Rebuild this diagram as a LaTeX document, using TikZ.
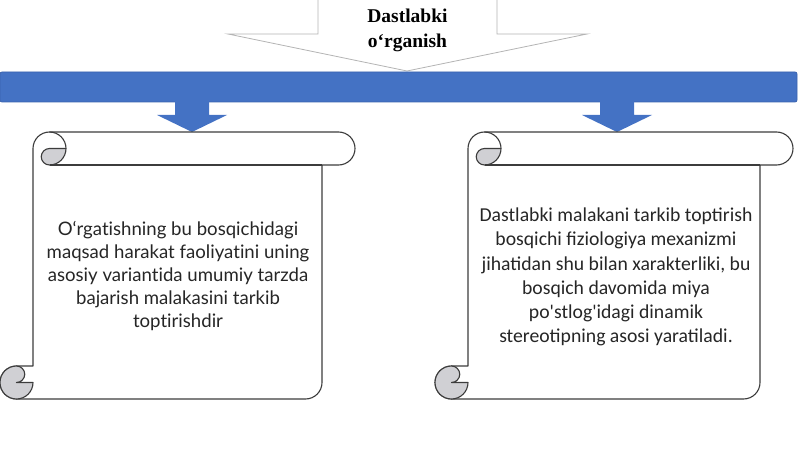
\documentclass[tikz,border=0pt]{standalone}
\usepackage{fontspec}
\setmainfont{Carlito}
\newfontfamily\leftfont[Ligatures=NoCommon]{Lato}
\newfontfamily\headfont{Liberation Serif}

\definecolor{barblue}{HTML}{4472C4}
\definecolor{baredge}{HTML}{3A63AE}
\definecolor{rollgray}{HTML}{D0D0D4}
\definecolor{inkgray}{HTML}{3C3C3C}
\definecolor{calloutgray}{HTML}{B4B4B4}

\tikzset{
  scrollline/.style={draw=inkgray, line width=1.1pt, line join=round},
  bar/.style={fill=barblue, draw=baredge, line width=0.8pt, rounded corners=2pt,
    minimum width=797pt, minimum height=30pt, inner sep=0pt},
  headtext/.style={font=\headfont\bfseries\fontsize{19.5}{25}\selectfont,
    align=center, text=black},
  lefttext/.style={font=\leftfont\fontsize{18.6}{23}\selectfont,
    align=center, text=black!85},
  righttext/.style={font=\fontsize{19.7}{24.2}\selectfont,
    align=center, text=black!85}
}

% scroll: #1 = left side of the body, #2 = right end of the top roll
\newcommand{\drawscroll}[2]{%
  % body and top roll
  \draw [scrollline, fill=white] (#1,366) -- (#1,148.5)
    arc[start angle=180, end angle=270, radius=16.5] -- ({#2-16.5},132)
    arc[start angle=270, end angle=450, radius=16.5] -- ({#2-33},165)
    -- ({#2-33},382.5) arc[start angle=0, end angle=90, radius=16.5]
    -- ({#1-16.5},399) arc[start angle=90, end angle=270, radius=16.5] -- cycle;
  % curl at the top
  \draw [scrollline, fill=rollgray] ({#1+16.5},148.5) -- ({#1+33},148.5)
    arc[start angle=0, end angle=90, radius=16.5]
    arc[start angle=90, end angle=270, radius=8.25] -- cycle;
  \draw [scrollline] ({#1+16.5},132) arc[start angle=270, end angle=360, radius=16.5];
  \draw [scrollline] ({#1+16.5},165) -- ({#2-33},165);
  % curl at the bottom
  \draw [scrollline, fill=rollgray] ({#1-16.5},366)
    arc[start angle=270, end angle=0, radius=16.5] -- ({#1-16.5},382.5)
    arc[start angle=90, end angle=-90, radius=8.25] -- cycle;
}

\begin{document}
\begin{tikzpicture}[x=1pt,y=-1pt]

  \useasboundingbox (0,0) rectangle (800,449);

  % callout on top
  \draw [calloutgray, line width=0.8pt, fill=white]
    (318,-2) -- (497,-2) -- (497,34) -- (587,34) -- (407,71)
    -- (228,34) -- (318,34) -- cycle;
  \node [headtext] (head) at (407.5,30) {Dastlabki\\o‘rganish};

  % blue bar
  \node [bar] (bar) at (398.5,87) {};

  % small arrows under the bar
  \foreach \c in {192,617} {
    \fill [barblue] ({\c-17},101) -- ({\c+17},101) -- ({\c+17},115) -- ({\c+35},115)
      -- (\c,132) -- ({\c-35},115) -- ({\c-17},115) -- cycle;
  }

  % the two scrolls
  \drawscroll{33}{355}
  \drawscroll{468}{793}

  \node [lefttext] (lefttext) at (178,276)
    {O‘rgatishning bu bosqichidagi\\maqsad harakat faoliyatini uning\\asosiy variantida umumiy tarzda\\bajarish malakasini tarkib\\toptirishdir};
  \node [righttext] (righttext) at (616,277)
    {Dastlabki malakani tarkib toptirish\\bosqichi fiziologiya mexanizmi\\jihatidan shu bilan xarakterliki, bu\\bosqich davomida miya\\po\textquotesingle stlog\textquotesingle idagi dinamik\\stereotipning asosi yaratiladi.};

\end{tikzpicture}
\end{document}
